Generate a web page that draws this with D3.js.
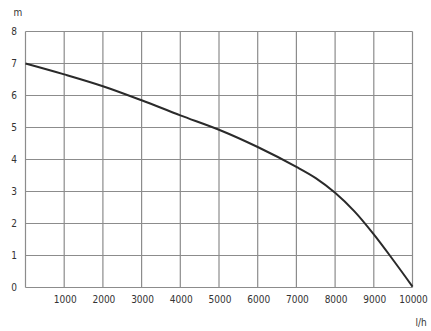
<!DOCTYPE html>
<html><head><meta charset="utf-8">
<script src="https://cdn.jsdelivr.net/npm/d3@7"></script>
<style>body{margin:0;background:#fff}svg{display:block}</style>
</head><body><svg id="c" width="431" height="331"></svg>
<script>
const flow = [0, 1000, 2000, 3000, 4000, 5000, 6000, 7000, 7500, 8000, 8500, 9000, 9500, 10000];
const head = [7.0, 6.66, 6.29, 5.85, 5.38, 4.93, 4.39, 3.77, 3.42, 2.96, 2.38, 1.66, 0.86, 0.03];
const xTicks = [1000, 2000, 3000, 4000, 5000, 6000, 7000, 8000, 9000, 10000];
const yTicks = [0, 1, 2, 3, 4, 5, 6, 7, 8];
const xUnit = "l/h", yUnit = "m";

const svg = d3.select("#c");
const x = d3.scaleLinear().domain([0, 10000]).range([25.5, 412.5]);
const y = d3.scaleLinear().domain([0, 8]).range([287.5, 31.5]);
const font = "'DejaVu Sans Condensed', 'DejaVu Sans', sans-serif";
const grid = "#8c8c8c";

svg.append("g").selectAll("line").data(yTicks).join("line")
  .attr("x1", x(0)).attr("x2", x(10000)).attr("y1", d => y(d)).attr("y2", d => y(d))
  .attr("stroke", grid).attr("stroke-width", 1.2);
svg.append("g").selectAll("line").data([0].concat(xTicks)).join("line")
  .attr("y1", y(0)).attr("y2", y(8)).attr("x1", d => x(d)).attr("x2", d => x(d))
  .attr("stroke", grid).attr("stroke-width", 1.2);

svg.append("g").selectAll("text").data(yTicks).join("text")
  .attr("x", 14).attr("y", d => y(d)).attr("dy", "0.35em")
  .attr("text-anchor", "middle").attr("font-family", font).attr("font-size", 10)
  .attr("fill", "#333").text(d => d);
svg.append("g").selectAll("text").data(xTicks).join("text")
  .attr("x", d => x(d) + 1).attr("y", 299).attr("dy", "0.35em")
  .attr("text-anchor", "middle").attr("font-family", font).attr("font-size", 10)
  .attr("fill", "#333").text(d => d);

svg.append("text").attr("x", 18).attr("y", 12).attr("dy", "0.35em")
  .attr("text-anchor", "middle").attr("font-family", font).attr("font-size", 10)
  .attr("fill", "#333").text(yUnit);
svg.append("text").attr("x", 421).attr("y", 322).attr("dy", "0.35em")
  .attr("text-anchor", "middle").attr("font-family", font).attr("font-size", 10)
  .attr("fill", "#333").text(xUnit);

const pts = flow.map((f, i) => [f, head[i]]);
svg.append("path").datum(pts)
  .attr("d", d3.line().x(d => x(d[0])).y(d => y(d[1])).curve(d3.curveCatmullRom.alpha(0.5)))
  .attr("fill", "none").attr("stroke", "#2a2a2a").attr("stroke-width", 2);
</script></body></html>
